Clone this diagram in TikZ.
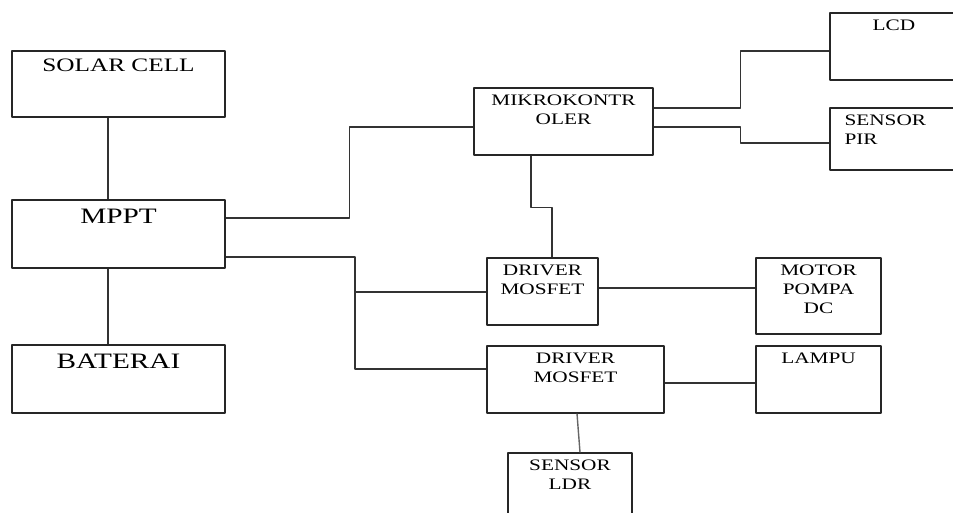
\documentclass[tikz,border=0pt]{standalone}
\usepackage{fontspec}
\setmainfont{Liberation Serif}[FakeStretch=1.33]

\tikzset{
  blok/.style={draw=black!85, line width=1.4pt, inner sep=0pt},
  tulisan/.style={anchor=north, yshift=-7.5pt, inner sep=0pt, align=center,
                  font=\fontsize{16pt}{19pt}\selectfont},
  tulisanbesar/.style={anchor=north, yshift=-9.4pt, inner sep=0pt, align=center,
                  font=\fontsize{22pt}{26pt}\selectfont},
  garis/.style={draw=black!80, line width=1.4pt}
}

\begin{document}
\begin{tikzpicture}[x=1pt, y=-1pt, line join=round]

    \clip (0,0) rectangle (953,513);

    % sumber daya
    \node[blok, minimum width=213pt, minimum height=66pt] (solar) at (118.5,84) {};
    \node[blok, minimum width=213pt, minimum height=68pt] (mppt) at (118.5,234) {};
    \node[blok, minimum width=213pt, minimum height=68pt] (baterai) at (118.5,379) {};
    \node[tulisanbesar, yshift=1pt, font=\fontsize{19pt}{22pt}\selectfont] (tsolar) at (solar.north) {SOLAR CELL};
    \node[tulisanbesar] (tmppt) at (mppt.north) {MPPT};
    \node[tulisanbesar] (tbaterai) at (baterai.north) {BATERAI};

    % kontrol
    \node[blok, minimum width=179pt, minimum height=67pt] (mikro) at (563.5,121.5) {};
    \node[blok, minimum width=128pt, minimum height=67pt] (lcd) at (894,46.5) {};
    \node[blok, minimum width=128pt, minimum height=62pt] (pir) at (894,139) {};
    \node[tulisan] (tmikro) at (mikro.north) {MIKROKONTR\\OLER};
    \node[tulisan] (tlcd) at (lcd.north) {LCD};
    \node[tulisan, anchor=north west, align=left] (tpir) at ([xshift=15pt]pir.north west) {SENSOR\\PIR};

    % beban
    \node[blok, minimum width=111pt, minimum height=67pt] (drv1) at (542.5,291.5) {};
    \node[blok, minimum width=177pt, minimum height=67pt] (drv2) at (575.5,379.5) {};
    \node[blok, minimum width=125pt, minimum height=76pt] (motor) at (818.5,296) {};
    \node[blok, minimum width=125pt, minimum height=67pt] (lampu) at (818.5,379.5) {};
    \node[blok, minimum width=124pt, minimum height=70pt] (ldr) at (570,488) {};
    \node[tulisan] (tdrv1) at (drv1.north) {DRIVER\\MOSFET};
    \node[tulisan] (tdrv2) at (drv2.north) {DRIVER\\MOSFET};
    \node[tulisan] (tmotor) at (motor.north) {MOTOR\\POMPA\\DC};
    \node[tulisan] (tlampu) at (lampu.north) {LAMPU};
    \node[tulisan] (tldr) at (ldr.north) {SENSOR\\LDR};

    \coordinate (bus) at (355,292);

    % sambungan
    \draw[garis] ([xshift=-10.5pt]solar.south) -- ([xshift=-10.5pt]mppt.north);
    \draw[garis] ([xshift=-10.5pt]mppt.south) -- ([xshift=-10.5pt]baterai.north);
    \draw[garis] ([yshift=16pt]mppt.east) -- ++(124,0) |- ([yshift=-5.5pt]mikro.west);
    \draw[garis] ([yshift=-23pt]mppt.east) -| (bus) |- ([yshift=10.5pt]drv2.west);
    \draw[garis] (bus) -- (bus -| drv1.west);
    \draw[garis] ([xshift=-32.5pt]mikro.south) -- ++(0,52) -| ([xshift=9.5pt]drv1.north);
    \draw[garis] ([yshift=13.5pt]mikro.east) -- ++(87,0) |- ([yshift=-4.5pt]lcd.west);
    \draw[garis] ([yshift=-5.5pt]mikro.east) -- ++(87,0) |- ([yshift=-4pt]pir.west);
    \draw[garis] ([yshift=3.5pt]drv1.east) -- ([yshift=3.5pt]drv1.east -| motor.west);
    \draw[garis] ([yshift=-3.5pt]drv2.east) -- ([yshift=-3.5pt]drv2.east -| lampu.west);
    \draw[garis, draw=black!60] ([xshift=1.5pt]drv2.south) -- ([xshift=10pt]ldr.north);

\end{tikzpicture}
\end{document}
